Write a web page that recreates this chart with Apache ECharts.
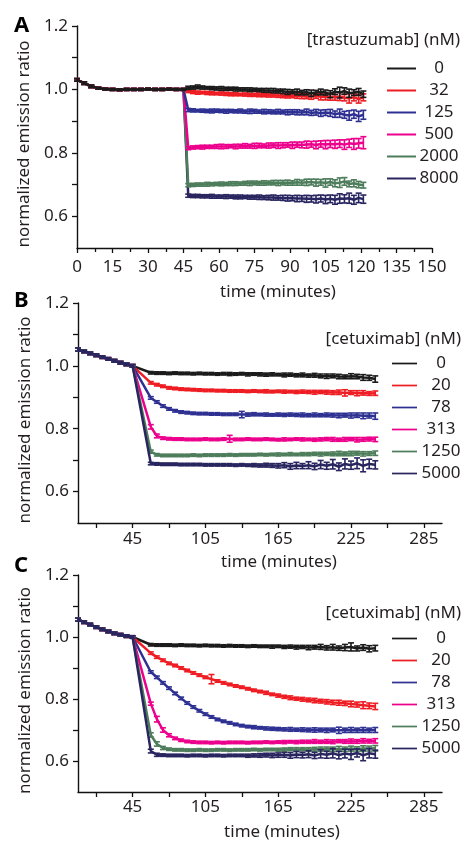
<!DOCTYPE html>
<html>
<head>
<meta charset="utf-8">
<script src="https://cdn.jsdelivr.net/npm/echarts@6/dist/echarts.min.js"></script>
<style>
  html, body { margin: 0; padding: 0; background: #fff; }
  #main { width: 463px; height: 842px; }
</style>
</head>
<body>
<div id="main"></div>
<script>
// colours shared by the three panels (low -> high dose)
const colors = ['#1b1b1b', '#ee1d23', '#2e3192', '#ec008c', '#4e7d5c', '#28255f'];

// ---------- panel A : trastuzumab ----------
const dosesA = ['0', '32', '125', '500', '2000', '8000'];
const preTimesA = [0, 3, 6, 9, 12, 15, 18, 21, 24, 27, 30, 33, 36, 39, 42, 45];
const preValsA = [1.03, 1.02, 1.01, 1.004, 1.001, 1.0, 0.999, 1.0, 1.0, 1.0, 1.001, 1.0, 1.0, 1.001, 1.0, 1.0];
const preErrA = [4, 4, 4, 3, 3, 3, 3, 3, 3, 3, 3, 3, 3, 3, 3, 3];
const postTimesA = [47, 49, 51, 53, 55, 57, 59, 61, 63, 65, 67, 69, 71, 73, 75, 77, 79, 81, 83, 85,
  87, 89, 91, 93, 95, 97, 99, 101, 103, 105, 107, 109, 111, 113, 115, 117, 119, 121];
const postValsA = [
  [1.005, 1.006, 1.008, 1.006, 1.005, 1.004, 1.003, 1.003, 1.002, 1.002,
   1.001, 1.0, 1.0, 0.999, 0.999, 0.998, 0.997, 0.997, 0.996, 0.995,
   0.994, 0.992, 0.993, 0.992, 0.99, 0.991, 0.988, 0.99, 0.992, 0.99,
   0.985, 0.993, 0.99, 0.995, 0.988, 0.99, 0.992, 0.985],
  [0.995, 0.992, 0.99, 0.99, 0.989, 0.988, 0.987, 0.987, 0.986, 0.985,
   0.985, 0.984, 0.984, 0.983, 0.983, 0.983, 0.982, 0.982, 0.981, 0.981,
   0.98, 0.98, 0.98, 0.979, 0.979, 0.978, 0.978, 0.98, 0.977, 0.976,
   0.977, 0.975, 0.978, 0.974, 0.972, 0.975, 0.97, 0.975],
  [0.935, 0.934, 0.933, 0.933, 0.932, 0.932, 0.933, 0.932, 0.931, 0.932,
   0.931, 0.932, 0.93, 0.931, 0.931, 0.93, 0.93, 0.93, 0.929, 0.93,
   0.929, 0.928, 0.929, 0.928, 0.927, 0.929, 0.926, 0.928, 0.925, 0.927,
   0.926, 0.922, 0.925, 0.92, 0.918, 0.922, 0.915, 0.92],
  [0.815, 0.817, 0.818, 0.818, 0.819, 0.819, 0.82, 0.82, 0.82, 0.821,
   0.82, 0.821, 0.822, 0.821, 0.822, 0.823, 0.822, 0.823, 0.824, 0.823,
   0.824, 0.825, 0.824, 0.826, 0.825, 0.826, 0.827, 0.825, 0.828, 0.826,
   0.828, 0.827, 0.829, 0.826, 0.83, 0.828, 0.83, 0.832],
  [0.698, 0.699, 0.7, 0.7, 0.701, 0.701, 0.702, 0.702, 0.702, 0.703,
   0.703, 0.703, 0.704, 0.704, 0.705, 0.704, 0.705, 0.705, 0.706, 0.705,
   0.706, 0.706, 0.705, 0.707, 0.706, 0.707, 0.708, 0.706, 0.707, 0.705,
   0.708, 0.704, 0.706, 0.71, 0.702, 0.704, 0.7, 0.698],
  [0.665, 0.664, 0.664, 0.663, 0.663, 0.663, 0.662, 0.662, 0.662, 0.662,
   0.661, 0.661, 0.661, 0.66, 0.66, 0.66, 0.659, 0.659, 0.659, 0.658,
   0.658, 0.657, 0.657, 0.656, 0.656, 0.655, 0.655, 0.654, 0.656, 0.653,
   0.655, 0.652, 0.656, 0.655, 0.657, 0.652, 0.658, 0.654]
];
// error bars, in thousandths
const postErrA = [
  [5, 5, 6, 5, 4, 5, 5, 6, 5, 5, 6, 5, 5, 6, 5, 5, 6, 6, 7, 6, 7, 8, 6, 9, 7, 8, 10, 7, 9, 8, 11, 9, 17, 10, 13, 9, 11, 10],
  [5, 5, 5, 4, 5, 5, 4, 5, 5, 5, 5, 4, 5, 5, 5, 6, 5, 6, 5, 6, 6, 7, 6, 7, 8, 7, 9, 8, 10, 9, 11, 9, 13, 10, 15, 11, 13, 11],
  [5, 5, 4, 5, 5, 6, 5, 5, 6, 5, 5, 6, 5, 7, 6, 5, 7, 6, 6, 7, 6, 8, 7, 8, 7, 9, 8, 9, 10, 9, 11, 10, 13, 11, 15, 13, 16, 14],
  [5, 5, 5, 6, 5, 5, 6, 7, 6, 5, 7, 6, 7, 6, 8, 7, 6, 8, 7, 9, 8, 7, 10, 8, 9, 11, 9, 12, 10, 13, 11, 13, 12, 15, 13, 17, 15, 19],
  [5, 5, 5, 5, 6, 5, 5, 6, 5, 6, 6, 5, 6, 7, 6, 6, 7, 6, 7, 8, 7, 8, 7, 9, 8, 10, 9, 11, 9, 13, 10, 11, 15, 12, 9, 11, 10, 9],
  [5, 5, 5, 5, 5, 6, 5, 5, 6, 5, 6, 6, 5, 6, 6, 7, 6, 7, 8, 7, 8, 9, 8, 10, 9, 11, 10, 12, 11, 13, 12, 14, 15, 13, 16, 14, 15, 13]
];

// ---------- panels B and C : cetuximab ----------
const dosesBC = ['0', '20', '78', '313', '1250', '5000'];
const preTimesBC = [0, 5, 10, 15, 20, 25, 30, 35, 40, 45];
const postTimesBC = [60, 65, 70, 75, 80, 85, 90, 95, 100, 105, 110, 115, 120, 125, 130, 135, 140, 145, 150, 155,
  160, 165, 170, 175, 180, 185, 190, 195, 200, 205, 210, 215, 220, 225, 230, 235, 240, 245];

const preValsB = [1.052, 1.046, 1.04, 1.034, 1.028, 1.022, 1.016, 1.01, 1.005, 1.0];
const preErrB = [5, 4, 4, 4, 4, 4, 4, 4, 4, 4];
const postValsB = [
  [0.978, 0.977, 0.977, 0.976, 0.977, 0.976, 0.976, 0.975, 0.976, 0.975,
   0.975, 0.974, 0.975, 0.974, 0.974, 0.975, 0.973, 0.974, 0.973, 0.972,
   0.973, 0.972, 0.971, 0.972, 0.97, 0.971, 0.969, 0.97, 0.968, 0.967,
   0.968, 0.966, 0.965, 0.967, 0.966, 0.963, 0.962, 0.958],
  [0.946, 0.94, 0.935, 0.93, 0.928, 0.926, 0.925, 0.924, 0.923, 0.922,
   0.922, 0.921, 0.921, 0.92, 0.92, 0.92, 0.919, 0.92, 0.919, 0.919,
   0.918, 0.919, 0.918, 0.918, 0.917, 0.918, 0.917, 0.916, 0.917, 0.916,
   0.915, 0.916, 0.914, 0.915, 0.913, 0.914, 0.912, 0.913],
  [0.898, 0.885, 0.872, 0.863, 0.857, 0.853, 0.851, 0.849, 0.848, 0.848,
   0.847, 0.847, 0.846, 0.846, 0.846, 0.845, 0.845, 0.846, 0.845, 0.845,
   0.844, 0.845, 0.844, 0.845, 0.844, 0.844, 0.843, 0.844, 0.843, 0.844,
   0.843, 0.842, 0.843, 0.842, 0.843, 0.841, 0.842, 0.84],
  [0.806, 0.777, 0.77, 0.768, 0.767, 0.767, 0.766, 0.766, 0.766, 0.767,
   0.766, 0.766, 0.767, 0.768, 0.766, 0.766, 0.767, 0.766, 0.766, 0.767,
   0.766, 0.765, 0.766, 0.766, 0.767, 0.766, 0.766, 0.765, 0.766, 0.767,
   0.766, 0.765, 0.766, 0.767, 0.765, 0.766, 0.767, 0.766],
  [0.727, 0.717, 0.715, 0.715, 0.715, 0.715, 0.715, 0.716, 0.715, 0.716,
   0.716, 0.716, 0.716, 0.717, 0.716, 0.717, 0.717, 0.717, 0.718, 0.717,
   0.718, 0.718, 0.718, 0.719, 0.718, 0.719, 0.719, 0.72, 0.719, 0.72,
   0.72, 0.721, 0.72, 0.721, 0.722, 0.72, 0.721, 0.722],
  [0.689, 0.688, 0.687, 0.687, 0.687, 0.686, 0.686, 0.686, 0.686, 0.685,
   0.685, 0.685, 0.685, 0.685, 0.684, 0.685, 0.684, 0.684, 0.683, 0.684,
   0.683, 0.682, 0.684, 0.68, 0.683, 0.681, 0.684, 0.68, 0.686, 0.682,
   0.687, 0.679, 0.688, 0.684, 0.69, 0.682, 0.688, 0.685]
];
const postErrB = [
  [4, 4, 4, 4, 4, 4, 4, 4, 4, 4, 4, 4, 4, 5, 4, 4, 5, 4, 5, 5, 5, 4, 6, 5, 5, 6, 5, 6, 6, 7, 6, 7, 6, 8, 7, 9, 8, 10],
  [4, 4, 4, 4, 4, 4, 4, 4, 4, 4, 4, 4, 4, 4, 4, 4, 4, 4, 4, 5, 4, 4, 5, 4, 5, 5, 5, 6, 5, 6, 6, 7, 10, 6, 8, 7, 6, 7],
  [4, 4, 4, 4, 4, 4, 4, 4, 4, 4, 4, 4, 4, 4, 4, 10, 5, 5, 4, 5, 4, 5, 5, 5, 5, 6, 5, 6, 5, 6, 6, 7, 6, 8, 7, 9, 8, 10],
  [7, 6, 4, 4, 4, 4, 4, 4, 4, 4, 4, 4, 4, 11, 4, 4, 4, 4, 4, 4, 4, 4, 5, 4, 4, 5, 4, 5, 5, 5, 6, 5, 6, 5, 7, 6, 6, 7],
  [5, 4, 4, 4, 4, 4, 4, 4, 4, 4, 4, 4, 4, 4, 4, 4, 4, 4, 4, 4, 4, 5, 4, 5, 4, 5, 5, 5, 6, 5, 6, 7, 6, 7, 6, 7, 6, 7],
  [4, 4, 4, 4, 4, 4, 4, 4, 4, 4, 4, 4, 4, 4, 4, 4, 4, 5, 5, 6, 6, 7, 8, 9, 10, 8, 11, 10, 13, 11, 15, 12, 16, 13, 17, 19, 15, 13]
];

const preValsC = [1.056, 1.048, 1.04, 1.032, 1.025, 1.018, 1.012, 1.007, 1.003, 1.0];
const preErrC = [5, 4, 4, 4, 4, 4, 4, 4, 4, 4];
const postValsC = [
  [0.975, 0.974, 0.974, 0.974, 0.973, 0.974, 0.973, 0.973, 0.972, 0.973,
   0.972, 0.972, 0.971, 0.972, 0.971, 0.971, 0.97, 0.971, 0.97, 0.97,
   0.969, 0.97, 0.968, 0.969, 0.967, 0.968, 0.966, 0.967, 0.968, 0.965,
   0.967, 0.964, 0.966, 0.968, 0.963, 0.966, 0.962, 0.964],
  [0.948, 0.935, 0.925, 0.915, 0.908, 0.9, 0.892, 0.884, 0.877, 0.87,
   0.864, 0.858, 0.852, 0.847, 0.842, 0.838, 0.833, 0.828, 0.824, 0.82,
   0.815, 0.811, 0.807, 0.804, 0.801, 0.799, 0.797, 0.795, 0.793, 0.791,
   0.789, 0.788, 0.786, 0.784, 0.782, 0.78, 0.778, 0.776],
  [0.887, 0.87, 0.852, 0.835, 0.818, 0.802, 0.787, 0.774, 0.762, 0.751,
   0.742, 0.734, 0.728, 0.723, 0.718, 0.714, 0.711, 0.709, 0.707, 0.705,
   0.704, 0.703, 0.702, 0.702, 0.701, 0.701, 0.7, 0.7, 0.7, 0.699,
   0.7, 0.699, 0.699, 0.7, 0.699, 0.7, 0.699, 0.7],
  [0.785, 0.735, 0.7, 0.683, 0.673, 0.667, 0.663, 0.661, 0.66, 0.66,
   0.659, 0.66, 0.659, 0.66, 0.66, 0.66, 0.659, 0.66, 0.66, 0.661,
   0.66, 0.661, 0.661, 0.662, 0.661, 0.662, 0.662, 0.663, 0.662, 0.663,
   0.662, 0.664, 0.663, 0.664, 0.663, 0.665, 0.664, 0.665],
  [0.684, 0.655, 0.642, 0.638, 0.636, 0.636, 0.635, 0.635, 0.636, 0.635,
   0.635, 0.636, 0.636, 0.635, 0.636, 0.636, 0.636, 0.637, 0.636, 0.637,
   0.637, 0.636, 0.637, 0.638, 0.637, 0.638, 0.637, 0.638, 0.638, 0.639,
   0.638, 0.639, 0.638, 0.64, 0.639, 0.64, 0.64, 0.641],
  [0.632, 0.62, 0.619, 0.618, 0.618, 0.618, 0.617, 0.618, 0.618, 0.617,
   0.618, 0.618, 0.617, 0.618, 0.618, 0.618, 0.617, 0.618, 0.618, 0.619,
   0.618, 0.619, 0.62, 0.618, 0.621, 0.619, 0.622, 0.618, 0.623, 0.62,
   0.625, 0.619, 0.624, 0.621, 0.626, 0.618, 0.625, 0.622]
];
const postErrC = [
  [4, 4, 4, 4, 4, 4, 4, 4, 4, 4, 4, 4, 4, 4, 4, 4, 4, 4, 4, 4, 5, 4, 5, 5, 6, 5, 7, 6, 8, 7, 9, 7, 10, 13, 8, 9, 10, 9],
  [4, 4, 4, 4, 4, 4, 4, 4, 4, 4, 15, 4, 4, 4, 4, 4, 4, 4, 4, 5, 4, 5, 5, 6, 5, 6, 6, 7, 6, 7, 7, 8, 7, 9, 8, 11, 9, 10],
  [4, 4, 4, 4, 4, 4, 4, 4, 4, 4, 4, 4, 4, 4, 4, 4, 4, 5, 4, 5, 5, 5, 5, 6, 5, 6, 6, 7, 6, 7, 6, 10, 7, 8, 7, 8, 7, 8],
  [5, 9, 7, 5, 4, 4, 4, 4, 4, 4, 4, 4, 4, 4, 4, 4, 4, 4, 4, 4, 4, 4, 5, 4, 5, 5, 5, 6, 5, 6, 6, 5, 6, 7, 6, 7, 6, 7],
  [7, 7, 5, 4, 4, 4, 4, 4, 4, 4, 4, 4, 4, 4, 4, 4, 4, 4, 4, 4, 4, 5, 5, 5, 6, 5, 6, 6, 7, 6, 7, 8, 7, 8, 7, 9, 8, 9],
  [6, 5, 4, 4, 4, 4, 4, 4, 4, 4, 4, 4, 4, 4, 4, 4, 5, 5, 6, 6, 7, 7, 8, 9, 10, 9, 11, 10, 13, 11, 15, 12, 14, 16, 13, 17, 15, 13]
];

const yLabels = [0.6, 0.8, 1.0, 1.2];
const yTicks = [0.6, 0.7, 0.8, 0.9, 1.0, 1.1, 1.2];
const xLabelsBC = [45, 105, 165, 225, 285];
const xTicksBC = [15, 45, 75, 105, 135, 165, 195, 225, 255, 285];

const FONT = '"Noto Sans", "Open Sans", sans-serif';
const INK = '#231f20';
const FS = 17;

// error bars drawn through the axis scale
function errRender(color) {
  return function (params, api) {
    const x = api.value(0), y = api.value(1), e = api.value(2);
    const lo = api.coord([x, y - e]);
    const hi = api.coord([x, y + e]);
    const w = 3;
    const st = { stroke: color, lineWidth: 1.6 };
    return {
      type: 'group',
      children: [
        { type: 'line', shape: { x1: lo[0], y1: lo[1], x2: hi[0], y2: hi[1] }, style: st },
        { type: 'line', shape: { x1: lo[0] - w, y1: lo[1], x2: lo[0] + w, y2: lo[1] }, style: st },
        { type: 'line', shape: { x1: hi[0] - w, y1: hi[1], x2: hi[0] + w, y2: hi[1] }, style: st }
      ]
    };
  };
}

let series = [];
// z order: panel A keeps the untreated trace on top, B and C the high doses
function addPanel(idx, doses, preT, preV, preE, postT, postV, postE, topFirst) {
  const times = preT.concat(postT);
  for (let s = 0; s < doses.length; s++) {
    const vals = preV.concat(postV[s]);
    const errs = preE.concat(postE[s]);
    let line = [], bars = [];
    for (let i = 0; i < times.length; i++) {
      line.push([times[i], vals[i]]);
      bars.push([times[i], vals[i], errs[i] / 1000]);
    }
    const z = topFirst ? 10 - s : 3 + s;
    series.push({
      name: doses[s], type: 'line', xAxisIndex: idx, yAxisIndex: idx,
      data: line, symbol: 'none', color: colors[s],
      lineStyle: { width: 2.5, color: colors[s] }, z: z, silent: true, animation: false
    });
    series.push({
      name: 'err' + idx + '_' + s, type: 'custom', xAxisIndex: idx, yAxisIndex: idx,
      data: bars, renderItem: errRender(colors[s]), z: z, silent: true, animation: false
    });
  }
}
addPanel(0, dosesA, preTimesA, preValsA, preErrA, postTimesA, postValsA, postErrA, true);
addPanel(1, dosesBC, preTimesBC, preValsB, preErrB, postTimesBC, postValsB, postErrB, false);
addPanel(2, dosesBC, preTimesBC, preValsC, preErrC, postTimesBC, postValsC, postErrC, false);

const axisLine = { show: true, lineStyle: { color: '#111', width: 1.4 } };
const tickStyle = { color: '#111', width: 1.3 };

function yAxis(idx) {
  return {
    type: 'value', gridIndex: idx, min: 0.5, max: 1.2,
    axisLine: axisLine,
    axisTick: { show: true, length: 5, customValues: yTicks, lineStyle: tickStyle },
    axisLabel: {
      customValues: yLabels, margin: 9, fontSize: FS, color: INK, fontFamily: FONT,
      formatter: v => v.toFixed(1)
    },
    splitLine: { show: false },
    name: 'normalized emission ratio', nameLocation: 'middle', nameGap: 37,
    nameTextStyle: { fontSize: FS, color: INK, fontFamily: FONT, padding: [0, 14, 0, 0] }
  };
}

function xAxisBC(idx, margin, gap, pad) {
  return {
    type: 'value', gridIndex: idx, min: 0, max: 300,
    axisLine: axisLine,
    axisTick: { show: true, length: 5, customValues: xTicksBC, lineStyle: tickStyle },
    axisLabel: { customValues: xLabelsBC, margin: margin, fontSize: FS, color: INK, fontFamily: FONT },
    splitLine: { show: false },
    name: 'time (minutes)', nameLocation: 'middle', nameGap: gap,
    nameTextStyle: { fontSize: FS, color: INK, fontFamily: FONT, padding: [0, 0, 0, pad] }
  };
}

function legend(names, left, top, iw, tw) {
  return {
    data: names, orient: 'vertical', left: left, top: top, padding: 0,
    itemWidth: iw, itemHeight: 14, itemGap: 5, selectedMode: false,
    icon: 'path://M0,6 L29,6 L29,8 L0,8 Z',
    formatter: n => '{a|' + n + '}',
    textStyle: {
      fontSize: FS, color: INK, fontFamily: FONT,
      rich: { a: { width: tw, align: 'center', lineHeight: 18, fontSize: FS, color: INK, fontFamily: FONT } }
    }
  };
}

const titleStyle = { fontSize: FS, fontWeight: 'normal', color: INK, fontFamily: FONT };
const letterStyle = { fontSize: 22, fontWeight: 'bold', color: '#000', fontFamily: FONT };

const option = {
  animation: false,
  backgroundColor: '#fff',
  title: [
    { text: 'A', left: 14, top: 15, padding: 0, textStyle: letterStyle },
    { text: 'B', left: 14, top: 290, padding: 0, textStyle: letterStyle },
    { text: 'C', left: 14, top: 555, padding: 0, textStyle: letterStyle },
    { text: '[trastuzumab] (nM)', right: 3, top: 32, padding: 0, textStyle: titleStyle },
    { text: '[cetuximab] (nM)', right: 2, top: 331, padding: 0, textStyle: titleStyle },
    { text: '[cetuximab] (nM)', right: 2, top: 605, padding: 0, textStyle: titleStyle }
  ],
  legend: [
    legend(dosesA, 387, 60, 29, 36),
    legend(dosesBC, 392, 355, 25, 38),
    legend(dosesBC, 392, 630, 25, 38)
  ],
  grid: [
    { left: 77, right: 31, top: 26, height: 222 },
    { left: 78, right: 21, top: 303, height: 220 },
    { left: 78, right: 21, top: 575, height: 217 }
  ],
  xAxis: [
    {
      type: 'value', gridIndex: 0, min: 0, max: 150, interval: 15,
      axisLine: axisLine,
      axisTick: { show: true, length: 5, lineStyle: tickStyle },
      minorTick: { show: true, splitNumber: 2, length: 4, lineStyle: tickStyle },
      axisLabel: { margin: 11, fontSize: FS, color: INK, fontFamily: FONT },
      splitLine: { show: false },
      name: 'time (minutes)', nameLocation: 'middle', nameGap: 36,
      nameTextStyle: { fontSize: FS, color: INK, fontFamily: FONT, padding: [0, 0, 0, 47] }
    },
    xAxisBC(1, 8, 31, 38),
    xAxisBC(2, 7, 32, 44)
  ],
  yAxis: [yAxis(0), yAxis(1), yAxis(2)],
  series: series
};

const chart = echarts.init(document.getElementById('main'), null, { renderer: 'canvas' });
chart.setOption(option);
</script>
</body>
</html>
